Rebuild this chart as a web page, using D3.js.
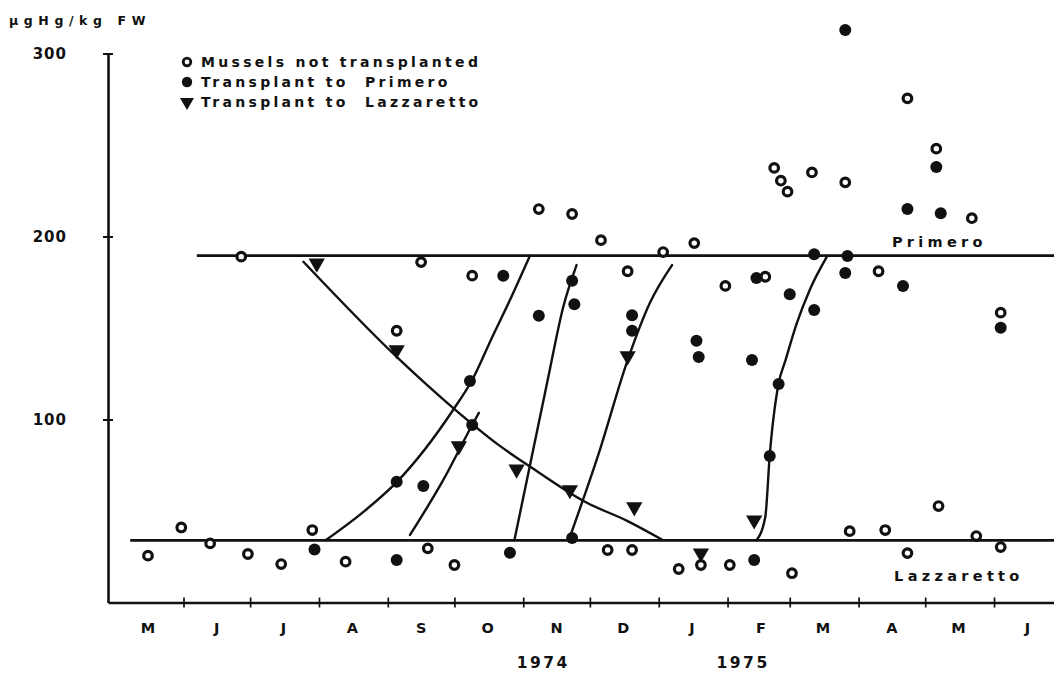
<!DOCTYPE html>
<html>
<head>
<meta charset="utf-8">
<script src="https://cdn.jsdelivr.net/npm/d3@7/dist/d3.min.js"></script>
<style>
    body { margin: 0; background: #fff; }
    text { font-family: "DejaVu Sans", sans-serif; font-weight: bold; fill: #111; }
</style>
</head>
<body>
<div id="chart-area"></div>
<script>
// values, µg Hg / kg fresh weight
var notTransplanted = [
    ['1974-05-16', 25.6], ['1974-05-31', 41], ['1974-06-13', 32.3], ['1974-06-27', 189],
    ['1974-06-30', 26.5], ['1974-07-15', 21], ['1974-07-29', 39.6], ['1974-08-13', 22.3],
    ['1974-09-05', 148.5], ['1974-09-16', 186], ['1974-09-19', 29.6], ['1974-10-01', 20.5],
    ['1974-10-09', 178.6], ['1974-11-08', 215], ['1974-11-23', 212.3], ['1974-12-06', 198],
    ['1974-12-09', 28.7], ['1974-12-18', 181], ['1974-12-20', 28.7], ['1975-01-03', 191.5],
    ['1975-01-10', 18.3], ['1975-01-17', 196.4], ['1975-01-20', 20.5], ['1975-01-31', 173],
    ['1975-02-02', 20.5], ['1975-02-18', 178], ['1975-02-22', 237.5], ['1975-02-25', 230.5],
    ['1975-02-28', 224.5], ['1975-03-02', 16], ['1975-03-11', 235], ['1975-03-26', 229.6],
    ['1975-03-28', 39], ['1975-04-10', 181], ['1975-04-13', 39.6], ['1975-04-23', 275.5],
    ['1975-04-23', 27], ['1975-05-06', 248], ['1975-05-07', 52.7], ['1975-05-22', 210],
    ['1975-05-24', 36.3], ['1975-06-04', 158.4], ['1975-06-04', 30.3]
];

var toPrimero = [
    ['1974-07-30', 29], ['1974-09-05', 23.2], ['1974-09-05', 66], ['1974-09-17', 63.7],
    ['1974-10-08', 121], ['1974-10-09', 97], ['1974-10-23', 178.6], ['1974-10-26', 27.2],
    ['1974-11-08', 156.7], ['1974-11-23', 175.8], ['1974-11-24', 163], ['1974-11-23', 35.2],
    ['1974-12-20', 157], ['1974-12-20', 148.5], ['1975-01-18', 143], ['1975-01-19', 134.2],
    ['1975-02-12', 132.5], ['1975-02-13', 23.2], ['1975-02-14', 177.3], ['1975-02-20', 80],
    ['1975-02-24', 119.4], ['1975-03-01', 168.4], ['1975-03-12', 190.3], ['1975-03-12', 159.8],
    ['1975-03-26', 312.8], ['1975-03-27', 189.3], ['1975-03-26', 180], ['1975-04-21', 173],
    ['1975-04-23', 215], ['1975-05-06', 238], ['1975-05-08', 212.7], ['1975-06-04', 150.2]
];

var toLazzaretto = [
    ['1974-07-31', 185.4], ['1974-09-05', 138], ['1974-10-03', 85.5], ['1974-10-29', 72.8],
    ['1974-11-22', 61.5], ['1974-12-18', 134.7], ['1974-12-21', 52.2], ['1975-01-20', 27],
    ['1975-02-13', 45]
];

// hand drawn trend lines of the original
var declineCurve = [
    ['1974-07-25', 186.2], ['1974-09-05', 134.2], ['1974-10-01', 105.7], ['1974-10-21', 86],
    ['1974-11-05', 73.5], ['1974-11-29', 54.9], ['1974-12-18', 44.5], ['1975-01-03', 34]
];

var riseCurves = [
    [['1974-08-04', 34], ['1974-08-22', 50.5], ['1974-09-05', 65.8], ['1974-10-01', 106.3],
     ['1974-10-09', 121.6], ['1974-10-18', 145], ['1974-10-26', 165.3], ['1974-11-04', 189.5]],
    [['1974-09-11', 36.9], ['1974-09-26', 67], ['1974-10-09', 97], ['1974-10-12', 103.6]],
    [['1974-10-28', 34], ['1974-11-12', 121.6], ['1974-11-19', 161.5], ['1974-11-25', 184.4]],
    [['1974-11-22', 35.8], ['1974-12-05', 81.5], ['1974-12-18', 132.5], ['1974-12-28', 163.7],
     ['1975-01-07', 184.4]],
    [['1975-02-14', 34], ['1975-02-18', 46.9], ['1975-02-20', 80.6], ['1975-02-24', 119.8],
     ['1975-02-27', 132], ['1975-03-04', 152], ['1975-03-10', 170.8], ['1975-03-18', 189.5]]
];

var siteLevels = [
    { name: 'Primero', value: 189.5, from: '1974-06-07', labelAt: '1975-04-16' },
    { name: 'Lazzaretto', value: 34, from: '1974-05-08', labelAt: '1975-04-17' }
];

var xDomain = ['1974-04-28', '1975-06-28'];
var yTicks = [100, 200, 300];
var months = ['M', 'J', 'J', 'A', 'S', 'O', 'N', 'D', 'J', 'F', 'M', 'A', 'M', 'J'];
var years = [['1974', '1974-11-10'], ['1975', '1975-02-08']];
var legendItems = [
    ['open', 'Mussels not transplanted'],
    ['filled', 'Transplant to  Primero'],
    ['triangle', 'Transplant to  Lazzaretto']
];

var def = {
    width: 1054,
    height: 673,
    left: 108,
    bottom: 602.5,
    top: 53.5,
    ink: '#111'
};

var parse = d3.timeParse('%Y-%m-%d');

var svg = d3.select('#chart-area').append('svg')
    .attr('width', def.width)
    .attr('height', def.height);

var x = d3.scaleTime()
    .domain(xDomain.map(parse))
    .range([def.left, def.width]);

var y = d3.scaleLinear()
    .domain([0, 300])
    .range([def.bottom, def.top]);

// x axis, month ticks cross the line
var xAx = d3.axisBottom(x)
    .tickValues(d3.timeMonth.range(parse('1974-06-01'), parse('1975-06-02')))
    .tickFormat('')
    .tickSizeInner(5)
    .tickSizeOuter(0);
var xUnit = svg.append('g')
    .attr('color', def.ink)
    .attr('transform', 'translate(0,' + def.bottom + ')')
    .call(xAx);
xUnit.select('.domain').attr('stroke-width', 2.4);
xUnit.selectAll('.tick line').attr('y1', -5).attr('stroke-width', 1.7);

var yAx = d3.axisLeft(y)
    .tickValues(yTicks)
    .tickSizeInner(5)
    .tickSizeOuter(0)
    .tickPadding(36);
var yUnit = svg.append('g')
    .attr('color', def.ink)
    .attr('transform', 'translate(' + def.left + ',0)')
    .call(yAx);
yUnit.select('.domain').attr('stroke-width', 2.6);
yUnit.selectAll('.tick line').attr('x1', 5).attr('stroke-width', 2);
yUnit.selectAll('.tick text')
    .attr('font-size', 15)
    .attr('letter-spacing', 1)
    .attr('dy', '0.36em');

svg.append('text')
    .attr('x', 9)
    .attr('y', 25)
    .attr('font-size', 12.5)
    .attr('letter-spacing', 5.6)
    .text('µgHg/kg FW');

// month letters sit mid month
svg.append('g').selectAll('text')
    .data(d3.timeMonth.range(parse('1974-05-01'), parse('1975-06-02')))
    .enter().append('text')
    .attr('x', d => x(d3.timeDay.offset(d, 15)))
    .attr('y', 633)
    .attr('text-anchor', 'middle')
    .attr('font-size', 14.5)
    .text((d, i) => months[i]);

svg.append('g').selectAll('text')
    .data(years)
    .enter().append('text')
    .attr('x', d => x(parse(d[1])))
    .attr('y', 668)
    .attr('text-anchor', 'middle')
    .attr('font-size', 15.5)
    .attr('letter-spacing', 2.5)
    .text(d => d[0]);

// Primero / Lazzaretto levels
var levels = svg.append('g');
levels.selectAll('line')
    .data(siteLevels)
    .enter().append('line')
    .attr('x1', d => x(parse(d.from)))
    .attr('x2', def.width)
    .attr('y1', d => y(d.value))
    .attr('y2', d => y(d.value))
    .attr('stroke', def.ink)
    .attr('stroke-width', 2.8);
levels.selectAll('text')
    .data(siteLevels)
    .enter().append('text')
    .attr('x', d => x(parse(d.labelAt)))
    .attr('y', (d, i) => i == 0 ? y(d.value) - 9 : y(d.value) + 41)
    .attr('font-size', 14.5)
    .attr('letter-spacing', 4.3)
    .text(d => d.name);

var line = d3.line()
    .x(d => x(parse(d[0])))
    .y(d => y(d[1]))
    .curve(d3.curveMonotoneX);

svg.append('g').selectAll('path')
    .data([declineCurve].concat(riseCurves))
    .enter().append('path')
    .attr('d', line)
    .attr('fill', 'none')
    .attr('stroke', def.ink)
    .attr('stroke-width', 2.4)
    .attr('stroke-linecap', 'round');

var marks = svg.append('g');

marks.selectAll('circle.open')
    .data(notTransplanted)
    .enter().append('circle')
    .attr('class', 'open')
    .attr('cx', d => x(parse(d[0])))
    .attr('cy', d => y(d[1]))
    .attr('r', 4.3)
    .attr('fill', '#fff')
    .attr('stroke', def.ink)
    .attr('stroke-width', 3.2);

marks.selectAll('circle.filled')
    .data(toPrimero)
    .enter().append('circle')
    .attr('class', 'filled')
    .attr('cx', d => x(parse(d[0])))
    .attr('cy', d => y(d[1]))
    .attr('r', 6)
    .attr('fill', def.ink);

var tri = d3.symbol().type(d3.symbolTriangle).size(115);
marks.selectAll('path.tri')
    .data(toLazzaretto)
    .enter().append('path')
    .attr('class', 'tri')
    .attr('d', tri)
    .attr('transform', d => 'translate(' + x(parse(d[0])) + ',' + y(d[1]) + ') rotate(180)')
    .attr('fill', def.ink);

// legend
var legend = svg.append('g')
    .attr('transform', 'translate(187,62)');

legendItems.forEach((dis, i) => {
    var row = legend.append('g')
        .attr('transform', 'translate(0,' + (i * 20) + ')');
    if (dis[0] == 'open') {
        row.append('circle').attr('r', 3.8).attr('fill', '#fff')
            .attr('stroke', def.ink).attr('stroke-width', 2.8);
    } else if (dis[0] == 'filled') {
        row.append('circle').attr('r', 5.2).attr('fill', def.ink);
    } else {
        row.append('path')
            .attr('d', d3.symbol().type(d3.symbolTriangle).size(85))
            .attr('transform', 'rotate(180)')
            .attr('fill', def.ink);
    }
    row.append('text')
        .attr('x', 14)
        .attr('dy', '0.36em')
        .attr('font-size', 14)
        .attr('letter-spacing', 3.3)
        .style('white-space', 'pre')
        .text(dis[1]);
});
</script>
</body>
</html>
